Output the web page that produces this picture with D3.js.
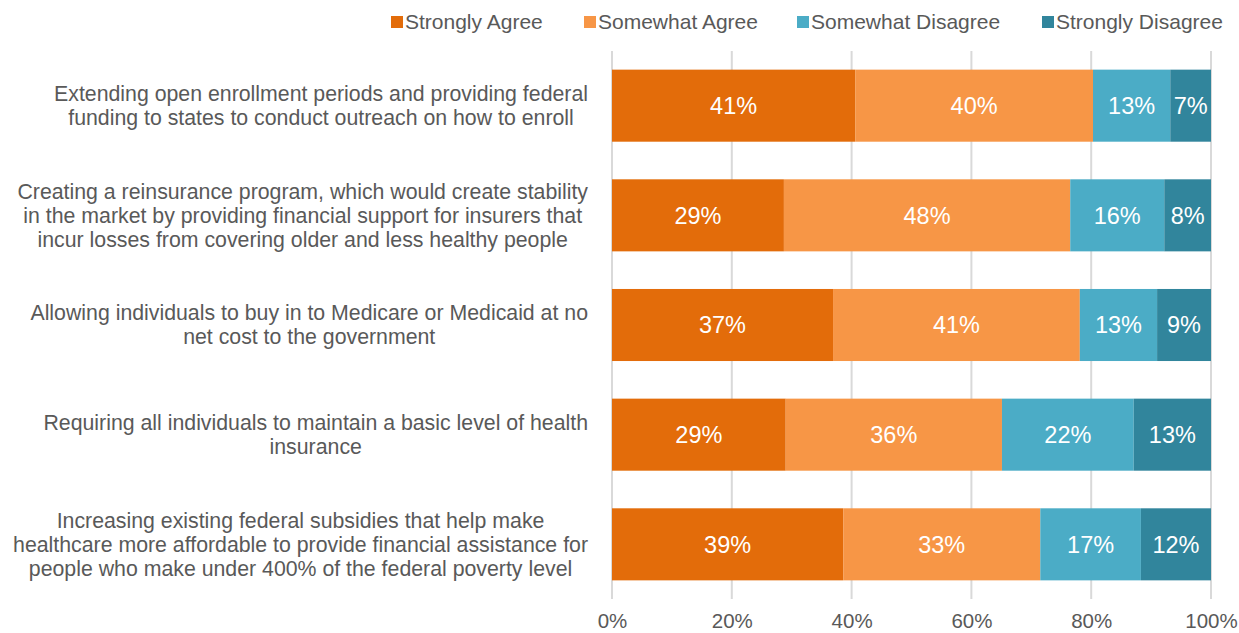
<!DOCTYPE html>
<html><head><meta charset="utf-8">
<script src="https://cdn.jsdelivr.net/npm/d3@7"></script>
<style>body{margin:0;background:#fff}svg{display:block}text{font-family:"Liberation Sans",Arial,sans-serif}</style>
</head><body><svg id="c" width="1239" height="633"></svg>
<script>
const categories = [
  ["Extending open enrollment periods and providing federal","funding to states to conduct outreach on how to enroll"],
  ["Creating a reinsurance program, which would create stability","in the market by providing financial support for insurers that","incur losses from covering older and less healthy people"],
  ["Allowing individuals to buy in to Medicare or Medicaid at no","net cost to the government"],
  ["Requiring all individuals to maintain a basic level of health","insurance"],
  ["Increasing existing federal subsidies that help make","healthcare more affordable to provide financial assistance for","people who make under 400% of the federal poverty level"]
];
const seriesNames = ["Strongly Agree","Somewhat Agree","Somewhat Disagree","Strongly Disagree"];
const stronglyAgree    = [40.6, 28.7, 36.9, 29.0, 38.6];
const somewhatAgree    = [39.7, 47.8, 41.2, 36.1, 32.9];
const somewhatDisagree = [12.9, 15.7, 12.9, 22.0, 16.8];
const stronglyDisagree = [6.8, 7.8, 9.0, 12.9, 11.7];
const tickValues = [0,20,40,60,80,100];
const colors = ["#E36C0A","#F79646","#4BACC6","#31859C"];

const series = [stronglyAgree, somewhatAgree, somewhatDisagree, stronglyDisagree];
const svg = d3.select("#c");
const x = d3.scaleLinear().domain([0,100]).range([612,1211]);
const y = d3.scaleBand().domain(d3.range(categories.length)).range([51,599]).paddingInner(0.343).paddingOuter(0.17);
const textColor = "#595959";

// gridlines
svg.append("g").selectAll("line").data(tickValues).join("line")
  .attr("x1", d=>x(d)).attr("x2", d=>x(d)).attr("y1", 51).attr("y2", 599)
  .attr("stroke", "#d9d9d9").attr("stroke-width", 2);

// axis labels
const axis = d3.axisBottom(x).tickValues(tickValues).tickFormat(d=>d+"%").tickSize(0).tickPadding(0);
const ag = svg.append("g").attr("transform","translate(0,628)").call(axis);
ag.select(".domain").remove();
ag.selectAll("text").attr("fill",textColor).attr("font-size",20.5).attr("dy","0em").attr("y",0)
  .style("font-family",'"Liberation Sans",Arial,sans-serif');

// stacked bars
const rows = categories.map((c,i)=>{
  let acc=0;
  return series.map((s,j)=>{const v=s[i]; const seg={row:i,k:j,x0:acc,x1:acc+v,v}; acc+=v; return seg;});
});
const g = svg.append("g");
rows.forEach(r=>{
  g.selectAll(null).data(r).join("rect")
    .attr("x", d=>x(d.x0)).attr("width", d=>x(d.x1)-x(d.x0))
    .attr("y", d=>y(d.row)).attr("height", y.bandwidth())
    .attr("fill", d=>colors[d.k]);
  g.selectAll(null).data(r).join("text")
    .attr("x", d=>(x(d.x0)+x(d.x1))/2).attr("y", d=>y(d.row)+y.bandwidth()/2)
    .attr("dy","0.36em").attr("text-anchor","middle").attr("fill","#fff").attr("font-size",23.5)
    .text(d=>Math.round(d.v)+"%");
});

// category labels
const lineH = 24;
categories.forEach((lines,i)=>{
  const t = svg.append("text").attr("fill",textColor).attr("font-size",21.3).attr("text-anchor","middle");
  const cy = y(i)+y.bandwidth()/2;
  const n = lines.length;
  const spans = lines.map((l,k)=>t.append("tspan").attr("y", cy + (k-(n-1)/2)*lineH).attr("dy","0.35em").text(l));
  const maxW = d3.max(spans, s=>s.node().getComputedTextLength());
  const cx = 588 - maxW/2;
  spans.forEach(s=>s.attr("x", cx));
});

// legend
const legX = [391, 584, 797, 1042];
const lg = svg.append("g");
seriesNames.forEach((n,i)=>{
  lg.append("rect").attr("x",legX[i]).attr("y",16).attr("width",12).attr("height",12).attr("fill",colors[i]);
  lg.append("text").attr("x",legX[i]+14).attr("y",22).attr("dy","0.35em").attr("fill",textColor).attr("font-size",21).text(n);
});
</script></body></html>
